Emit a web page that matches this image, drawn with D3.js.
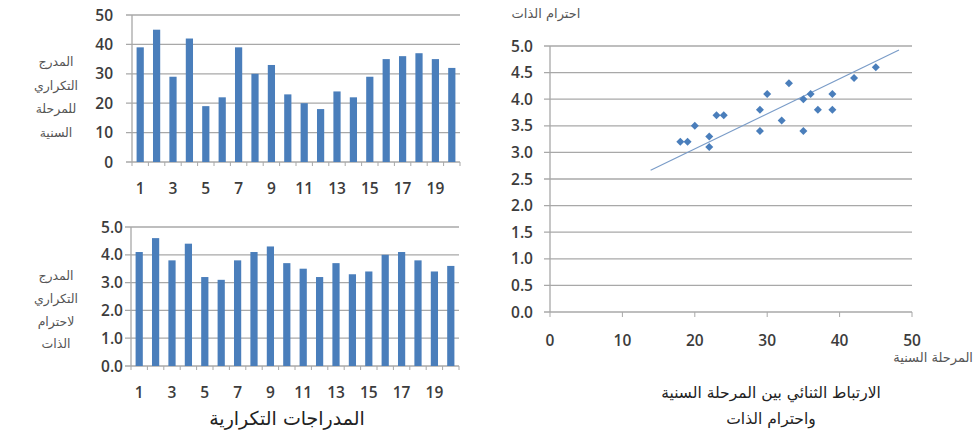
<!DOCTYPE html>
<html>
<head>
<meta charset="utf-8">
<script src="https://cdn.jsdelivr.net/npm/d3@7"></script>
<style>
  html, body { margin: 0; padding: 0; background: #fff; }
  svg { display: block; }
  .num { font-family: "Open Sans", "Liberation Sans", sans-serif; font-size: 15.5px; font-weight: 600; fill: #3c3c3c; }
  .ar { font-family: "DejaVu Sans", sans-serif; fill: #444; }
</style>
</head>
<body>
<svg id="chart" width="976" height="441"></svg>
<script>
// ---- data ----
const categories = d3.range(1, 21);
const ageStage = [39, 45, 29, 42, 19, 22, 39, 30, 33, 23, 20, 18, 24, 22, 29, 35, 36, 37, 35, 32];
const selfEsteem = [4.1, 4.6, 3.8, 4.4, 3.2, 3.1, 3.8, 4.1, 4.3, 3.7, 3.5, 3.2, 3.7, 3.3, 3.4, 4.0, 4.1, 3.8, 3.4, 3.6];
const ageTicks = [0, 10, 20, 30, 40, 50];
const esteemTicks = [0, 1, 2, 3, 4, 5];
const scatterYTicks = [0, 0.5, 1, 1.5, 2, 2.5, 3, 3.5, 4, 4.5, 5];
const scatterXTicks = [0, 10, 20, 30, 40, 50];
const trendRange = [13.9, 48.2];
const categoryLabels = categories.filter(c => c % 2 === 1);

const svg = d3.select("#chart");
const BLUE = "#4a7ebb";
const GRID = "#a8a8a8";

function barChart(values, yDomain, yTicks, fmt, box) {
  const x = d3.scaleBand().domain(categories).range([box.x0, box.x1]).paddingInner(0.56).paddingOuter(0.28);
  const y = d3.scaleLinear().domain(yDomain).range([box.y1, box.y0]);
  const g = svg.append("g");
  g.selectAll("line.grid").data(yTicks).join("line")
    .attr("x1", box.x0 - 6).attr("x2", box.x1)
    .attr("y1", d => y(d)).attr("y2", d => y(d))
    .attr("stroke", GRID).attr("stroke-width", 1.3);
  g.selectAll("text.yl").data(yTicks).join("text")
    .attr("class", "num")
    .attr("x", box.labelX).attr("y", d => y(d)).attr("dy", "0.36em")
    .attr("text-anchor", "end").text(fmt);
  g.selectAll("rect").data(values).join("rect")
    .attr("x", (d, i) => x(categories[i]))
    .attr("width", x.bandwidth())
    .attr("y", d => y(d)).attr("height", d => y(0) - y(d))
    .attr("fill", BLUE);
  g.append("line").attr("x1", box.x0).attr("x2", box.x0).attr("y1", y(yDomain[1])).attr("y2", y(0))
    .attr("stroke", GRID).attr("stroke-width", 1.3);
  const boundaries = d3.range(0, categories.length + 1).map(i => box.x0 + (box.x1 - box.x0) * i / categories.length);
  g.selectAll("line.tk").data(boundaries).join("line")
    .attr("x1", d => d).attr("x2", d => d).attr("y1", y(0)).attr("y2", y(0) + 4)
    .attr("stroke", GRID).attr("stroke-width", 1);
  g.selectAll("text.xl").data(categoryLabels).join("text")
    .attr("class", "num")
    .attr("x", d => x(d) + x.bandwidth() / 2).attr("y", box.xLabelY)
    .attr("text-anchor", "middle").text(d => d);
  return g;
}

barChart(ageStage, [0, 50], ageTicks, d => d, {x0: 132, x1: 460, y0: 15, y1: 162, labelX: 113, xLabelY: 194});
barChart(selfEsteem, [0, 5], esteemTicks, d => d3.format(".1f")(d), {x0: 131, x1: 459, y0: 227, y1: 366, labelX: 123, xLabelY: 398});

function multiLine(lines, cx, ys, size) {
  lines.forEach((t, i) => {
    svg.append("text").attr("class", "ar").attr("x", cx).attr("y", ys[i])
      .attr("text-anchor", "middle")
      .style("font-size", size + "px").style("fill", "#555").text(t);
  });
}
multiLine(["المدرج", "التكراري", "للمرحلة", "السنية"], 56, [66, 90, 113, 137], 12.5);
multiLine(["المدرج", "التكراري", "لاحترام", "الذات"], 56, [280, 303, 326, 348], 12.5);

svg.append("text").attr("class", "ar").attr("x", 287).attr("y", 425)
  .attr("text-anchor", "middle").style("font-size", "19px").style("fill", "#222")
  .text("المدراجات التكرارية");

// ---- scatter ----
const sx = d3.scaleLinear().domain([0, 50]).range([550, 912]);
const sy = d3.scaleLinear().domain([0, 5]).range([312, 46]);
const sg = svg.append("g");
sg.selectAll("line.grid").data(scatterYTicks).join("line")
  .attr("x1", sx(0) - 6).attr("x2", sx(50))
  .attr("y1", d => sy(d)).attr("y2", d => sy(d))
  .attr("stroke", GRID).attr("stroke-width", 1.3);
sg.selectAll("text.yl").data(scatterYTicks).join("text")
  .attr("class", "num").attr("x", 533).attr("y", d => sy(d)).attr("dy", "0.36em")
  .attr("text-anchor", "end").text(d => d3.format(".1f")(d));
sg.append("line").attr("x1", sx(0)).attr("x2", sx(0)).attr("y1", sy(5)).attr("y2", sy(0))
  .attr("stroke", GRID).attr("stroke-width", 1.3);
sg.selectAll("line.xt").data(scatterXTicks).join("line")
  .attr("x1", d => sx(d)).attr("x2", d => sx(d)).attr("y1", sy(0)).attr("y2", sy(0) + 5)
  .attr("stroke", GRID).attr("stroke-width", 1);
sg.selectAll("text.xl").data(scatterXTicks).join("text")
  .attr("class", "num").attr("x", d => sx(d)).attr("y", 346)
  .attr("text-anchor", "middle").text(d => d);

// trendline through the means (fit from the data)
const mx = d3.mean(ageStage), my = d3.mean(selfEsteem);
const sxy = d3.sum(ageStage, (v, i) => (v - mx) * (selfEsteem[i] - my));
const syy = d3.sum(selfEsteem, v => (v - my) ** 2);
const slope = syy / sxy;
const icpt = my - slope * mx;
sg.append("line")
  .attr("x1", sx(trendRange[0])).attr("y1", sy(icpt + slope * trendRange[0]))
  .attr("x2", sx(trendRange[1])).attr("y2", sy(icpt + slope * trendRange[1]))
  .attr("stroke", "#7a9cc8").attr("stroke-width", 1.2);

const diamond = d3.symbol().type(d3.symbolSquare).size(32);
sg.selectAll("path.pt").data(ageStage.map((v, i) => [v, selfEsteem[i]])).join("path")
  .attr("d", diamond)
  .attr("transform", d => `translate(${sx(d[0])},${sy(d[1])}) rotate(45)`)
  .attr("fill", BLUE);

svg.append("text").attr("class", "ar").attr("x", 546).attr("y", 18)
  .attr("text-anchor", "middle").style("font-size", "13px").style("fill", "#555")
  .text("احترام الذات");
svg.append("text").attr("class", "ar").attr("x", 973).attr("y", 362)
  .attr("text-anchor", "end").style("font-size", "13px").style("fill", "#555")
  .text("المرحلة السنية");
svg.append("text").attr("class", "ar").attr("x", 771).attr("y", 398)
  .attr("text-anchor", "middle").style("font-size", "15.5px").style("fill", "#222")
  .text("الارتباط الثنائي بين المرحلة السنية");
svg.append("text").attr("class", "ar").attr("x", 771).attr("y", 424)
  .attr("text-anchor", "middle").style("font-size", "15.5px").style("fill", "#222")
  .text("واحترام الذات");
</script>
</body>
</html>
